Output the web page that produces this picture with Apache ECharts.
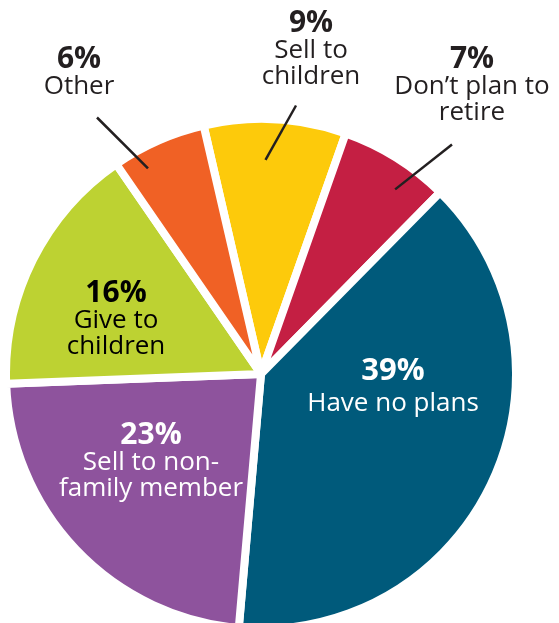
<!DOCTYPE html>
<html>
<head>
<meta charset="utf-8">
<script src="https://cdn.jsdelivr.net/npm/echarts@6/dist/echarts.min.js"></script>
<style>
html,body{margin:0;padding:0;background:#fff;}
#chart{width:559px;height:623px;}
</style>
</head>
<body>
<div id="chart"></div>
<script>
// ---- data ----
const categories = ['Sell to children', 'Don\u2019t plan to retire', 'Have no plans', 'Sell to non-family member', 'Give to children', 'Other'];
const values = [9, 7, 39, 23, 16, 6];
const labelLines = [['Sell to', 'children'], ['Don\u2019t plan to', 'retire'], ['Have no plans'], ['Sell to non-', 'family member'], ['Give to', 'children'], ['Other']];

// ---- styling / layout ----
const colors = ['#fdca0b', '#c41f43', '#005a7b', '#8e539d', '#bdd232', '#f06125'];
const labelColors = ['#231f20', '#231f20', '#ffffff', '#ffffff', '#000000', '#231f20'];
const CX = 261, CY = 374, R = 255;
const LAYOUT = [
  { x: 311, y: 9, line: [-15, 15], rot: -2, rf: 0.84 },
  { x: 472, y: 45, line: [-20, 18], rot: 4, rf: 0.895 },
  { x: 393, y: 351, big: true },
  { x: 151, y: 421 },
  { x: 116, y: 279 },
  { x: 79, y: 45, line: [18, 17], rot: -5, rf: 0.92 }
];

const chart = echarts.init(document.getElementById('chart'), null, { renderer: 'canvas' });

const sectorData = categories.map((name, i) => ({
  name: name,
  value: values[i],
  itemStyle: { color: colors[i] }
}));

const labelData = categories.map((name, i) => {
  const item = {
    name: name,
    value: values[i],
    label: { color: labelColors[i] }
  };
  if (!LAYOUT[i].line) item.labelLine = { show: false };
  return item;
});

const common = {
  type: 'pie',
  center: [CX, CY],
  radius: [0, R],
  startAngle: 103,
  clockwise: true,
  avoidLabelOverlap: false,
  emphasis: { disabled: true },
  silent: true
};

chart.setOption({
  animation: false,
  backgroundColor: '#ffffff',
  series: [
    Object.assign({}, common, {
      z: 2,
      itemStyle: { borderColor: '#ffffff', borderWidth: 8, borderJoin: 'round' },
      label: { show: false },
      labelLine: { show: false },
      data: sectorData
    }),
    Object.assign({}, common, {
      z: 5,
      itemStyle: { color: 'rgba(0,0,0,0)', borderWidth: 0 },
      label: {
        show: true,
        position: 'outside',
        fontFamily: 'Open Sans',
        formatter: function (p) {
          const i = p.dataIndex;
          const pk = LAYOUT[i].big ? 'pb' : 'p';
          return '{' + pk + '|' + values[i] + '%}\n' + labelLines[i].map(s => '{t|' + s + '}').join('\n');
        },
        rich: {
          p: { fontFamily: 'Open Sans', fontWeight: 'bold', fontSize: 30, lineHeight: 29, align: 'center' },
          pb: { fontFamily: 'Open Sans', fontWeight: 'bold', fontSize: 31, lineHeight: 40, align: 'center' },
          t: { fontFamily: 'Open Sans', fontSize: 26, lineHeight: 26, align: 'center' }
        }
      },
      labelLine: {
        show: true,
        showAbove: true,
        lineStyle: { color: '#231f20', width: 2.5 }
      },
      labelLayout: function (p) {
        const L = LAYOUT[p.dataIndex];
        const out = { x: L.x, y: L.y, align: 'center', verticalAlign: 'top' };
        if (L.line && p.labelLinePoints) {
          const a = p.labelLinePoints[0];
          const ang = Math.atan2(a[1] - CY, a[0] - CX) + L.rot * Math.PI / 180;
          const end = [CX + Math.cos(ang) * R * L.rf, CY + Math.sin(ang) * R * L.rf];
          const start = [L.x + L.line[0], L.y + p.labelRect.height + L.line[1]];
          out.labelLinePoints = [start, end];
        }
        return out;
      },
      data: labelData
    })
  ]
});
</script>
</body>
</html>
